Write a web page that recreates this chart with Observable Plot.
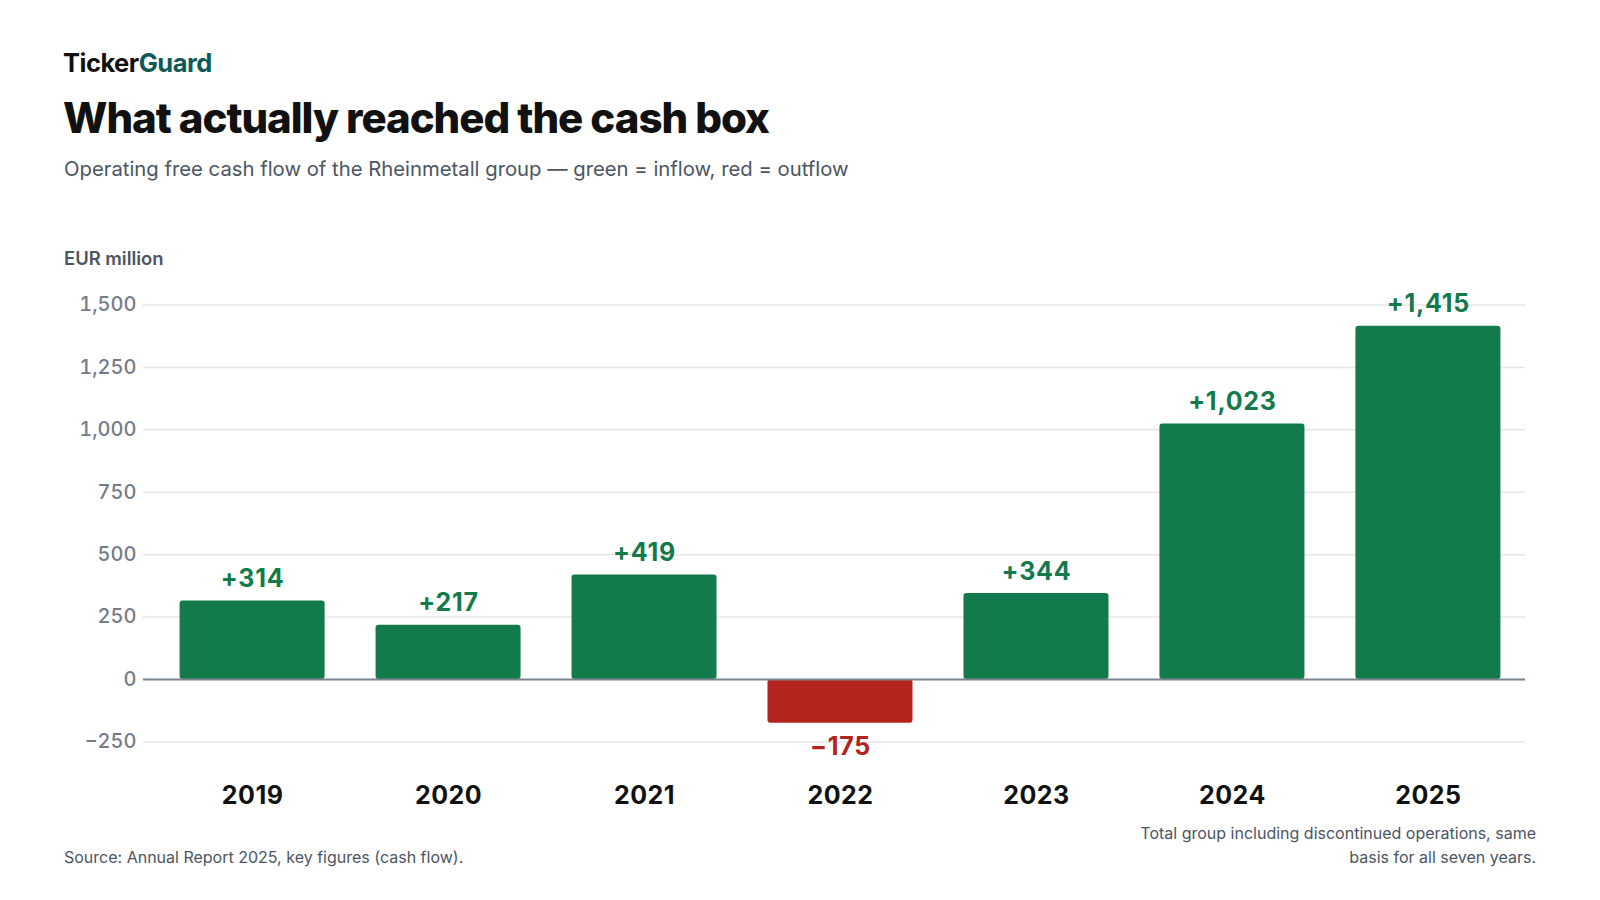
<!DOCTYPE html>
<html>
<head>
<meta charset="utf-8">
<script src="https://cdn.jsdelivr.net/npm/d3@7"></script>
<script src="https://cdn.jsdelivr.net/npm/@observablehq/plot@0.6"></script>
<style>
  body { margin: 0; background: #fff; font-family: Inter, "Noto Sans", sans-serif; }
  #page { position: relative; width: 1600px; height: 900px; overflow: hidden; }
  .abs { position: absolute; white-space: nowrap; }
  #brand { left: 63px; top: 48px; font-size: 25.5px; line-height: 29px; font-weight: 700; color: #111; letter-spacing: -0.02em; }
  #brand span { color: #0f5a57; }
  #title { left: 63px; top: 92px; font-size: 42px; line-height: 52px; font-weight: 800; color: #111; letter-spacing: -0.025em; }
  #subtitle { left: 64px; top: 157px; font-size: 20.3px; line-height: 24px; color: #4b5563; }
  #unit { left: 64px; top: 247px; font-size: 18.4px; line-height: 22px; font-weight: 600; color: #4b5563; }
  #chart { position: absolute; left: 0; top: 280px; }
  #chart g[aria-label="text"] text { letter-spacing: 0.03em; }
  #chart g[aria-label="x-axis tick label"] text { letter-spacing: 0.02em; }
  #source { left: 64px; top: 845px; font-size: 16px; line-height: 24px; color: #4b5563; }
  #note { right: 64px; top: 821px; width: 400px; white-space: normal; text-align: right; font-size: 16px; line-height: 24px; color: #4b5563; }
</style>
</head>
<body>
<div id="page">
  <div id="brand" class="abs">Ticker<span>Guard</span></div>
  <div id="title" class="abs">What actually reached the cash box</div>
  <div id="subtitle" class="abs">Operating free cash flow of the Rheinmetall group — green = inflow, red = outflow</div>
  <div id="unit" class="abs">EUR million</div>
  <div id="chart"></div>
  <div id="source" class="abs">Source: Annual Report 2025, key figures (cash flow).</div>
  <div id="note" class="abs">Total group including discontinued operations, same basis for all seven years.</div>
</div>
<script>
// Operating free cash flow, EUR million
const years = ["2019", "2020", "2021", "2022", "2023", "2024", "2025"]
const cashFlow = [314, 217, 419, -175, 344, 1023, 1415]
const yTicks = [-250, 0, 250, 500, 750, 1000, 1250, 1500]

const data = years.map((year, i) => ({ year, value: cashFlow[i] }))
const inflow = data.filter(d => d.value >= 0)
const outflow = data.filter(d => d.value < 0)
const green = "#137a4c"
const red = "#b3241f"
const fmt = d3.format(",")
const label = d => (d.value > 0 ? "+" : "") + fmt(d.value)

let chart = Plot.plot({
  width: 1600,
  height: 540,
  marginLeft: 143,
  marginRight: 75,
  marginTop: 12,
  marginBottom: 53.6,
  style: { fontFamily: "Inter, 'Noto Sans', sans-serif", background: "transparent" },
  x: { domain: years, range: [160, 1520], paddingInner: 0.26, paddingOuter: 0.1, round: false, label: null },
  y: { domain: [-350, 1550], label: null },
  marks: [
    Plot.ruleY(yTicks, { stroke: "#e6e6e6", strokeWidth: 1.5 }),
    Plot.barY(data, { x: "year", y: "value", fill: d => d.value >= 0 ? green : red, rx: 3 }),
    Plot.ruleY([0], { stroke: "#7d8590", strokeWidth: 2 }),
    // labels above inflows, below outflows
    Plot.text(inflow, { x: "year", y: "value", text: label, dy: -22, fill: green, fontSize: 25, fontWeight: 700 }),
    Plot.text(outflow, { x: "year", y: "value", text: label, dy: 24, fill: red, fontSize: 25, fontWeight: 700 }),
    Plot.axisY({ ticks: yTicks, tickFormat: fmt, tickSize: 0, tickPadding: 7, fontSize: 20, fontWeight: 500, fill: "#767c87", label: null }),
    Plot.axisX({ tickSize: 0, tickPadding: 19, fontSize: 25, fontWeight: 700, fill: "#111", label: null })
  ]
})

d3.select("#chart").append(() => chart)
</script>
</body>
</html>
